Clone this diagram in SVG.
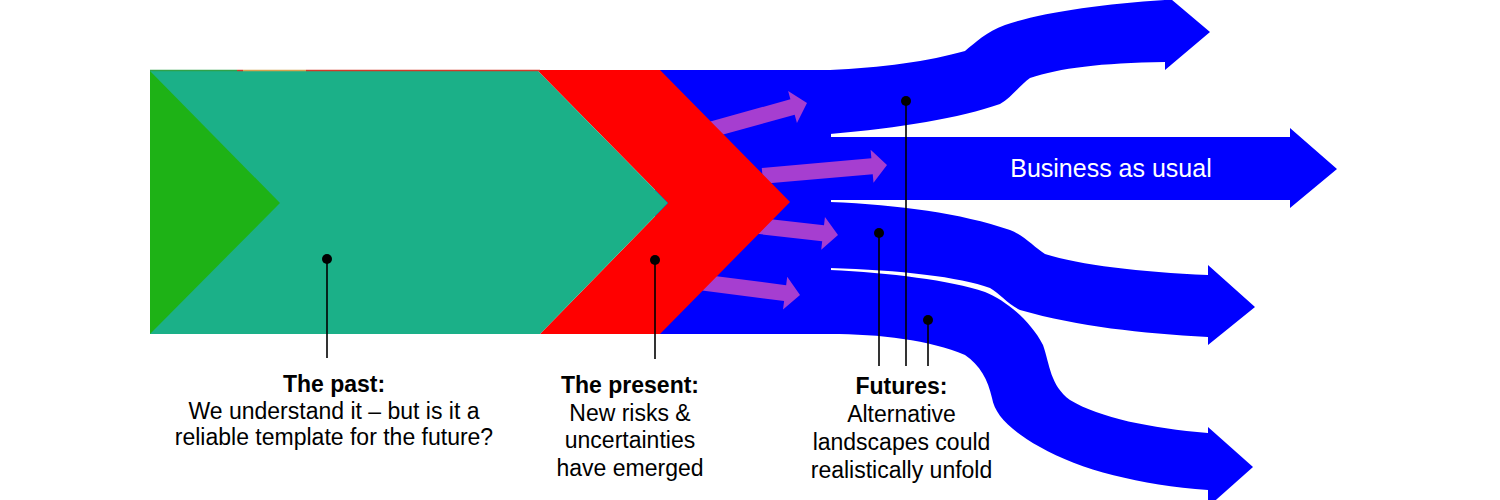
<svg xmlns="http://www.w3.org/2000/svg" xmlns:xlink="http://www.w3.org/1999/xlink" width="1500" height="500" viewBox="0 0 1500 500">
<style>
.blue{fill:#0000FF}
.purple{fill:#A63ED0}
.lbl{font-family:"Liberation Sans",Arial,sans-serif;font-size:23px;fill:#000;text-anchor:middle}
.b{font-weight:bold}
.lead{stroke:#000;stroke-width:1.6;fill:none}
</style>
<defs>
<polygon id="parr" points="-125,-8 -15,-8 -15,-16.5 0,0 -15,16.5 -15,8 -125,8"/>
</defs>
<rect width="1500" height="500" fill="#fff"/>
<g id="futures-arrows">
<rect class="blue" x="655" y="70" width="176" height="264"/>
<path id="future-1" class="blue" d="M830,70 C880,68 930,61 965,51 C976,42 986,32 1005,25 C1040,13 1100,4 1165,0 L1165,-6 L1210,32 L1165,70 L1165,62 C1100,63 1060,68 1030,78 C1020,85 1012,97 1000,104 C960,118 900,128 830,134 Z"/>
<path id="future-bau" class="blue" d="M830,137 L1290,137 L1290,128 L1337,169 L1290,208 L1290,200 L830,200 Z"/>
<path id="future-3" class="blue" d="M830,202 C900,205 960,213 1010,230 C1025,236 1035,248 1045,254 C1080,265 1140,272 1208,275 L1208,265 L1255,307 L1208,345 L1208,337 C1140,333 1080,327 1020,310 C1008,304 1000,294 990,288 C960,277 900,270 830,268 Z"/>
<path id="future-4" class="blue" d="M830,270 C890,273 950,280 985,292 C1005,300 1030,320 1043,345 C1050,365 1050,385 1070,400 C1100,418 1150,428 1208,433 L1208,427 L1253,467 L1208,507 L1208,490 C1140,485 1080,470 1040,447 C1010,430 995,415 992,398 C988,380 980,365 965,355 C930,340 880,334 830,334 Z"/>
<text x="1111" y="177" style="font-family:'Liberation Sans',Arial,sans-serif;font-size:25px;fill:#fff;text-anchor:middle">Business as usual</text>
</g>
<g id="purple-arrows">
<use xlink:href="#parr" href="#parr" class="purple" transform="translate(807,103) rotate(-15.5)"/>
<use xlink:href="#parr" href="#parr" class="purple" transform="translate(887,165) rotate(-5)"/>
<use xlink:href="#parr" href="#parr" class="purple" transform="translate(838,235) rotate(6.5)"/>
<use xlink:href="#parr" href="#parr" class="purple" transform="translate(800,295) rotate(7.3)"/>
</g>
<g id="present">
<polygon fill="#FF0000" points="537,70 660,70 790,202 660,334 540,334 668,203"/>
</g>
<g id="past">
<polygon fill="#1BB088" points="150,70 537,70 668,203 540,334 150,334"/>
<polygon fill="#1EB216" points="150,71 280,203 150,334"/>
<line x1="150" y1="70.5" x2="237" y2="70.5" stroke="#2FA24A" stroke-width="1.5"/>
<line x1="237" y1="70.5" x2="243" y2="70.5" stroke="#D23A2A" stroke-width="1.5"/>
<line x1="243" y1="70.5" x2="306" y2="70.5" stroke="#D4A24E" stroke-width="1.5"/>
<line x1="306" y1="70.5" x2="540" y2="70.5" stroke="#D23A2A" stroke-width="1.5"/>
</g>
<g id="connectors">
<line class="lead" x1="327" y1="259" x2="327" y2="358"/>
<circle cx="327" cy="259" r="5"/>
<line class="lead" x1="655" y1="260" x2="655" y2="359"/>
<circle cx="655" cy="260" r="5"/>
<line class="lead" x1="879" y1="233" x2="879" y2="366"/>
<circle cx="879" cy="233" r="5"/>
<line class="lead" x1="906" y1="101" x2="906" y2="366"/>
<circle cx="906" cy="101" r="5"/>
<line class="lead" x1="928" y1="320" x2="928" y2="366"/>
<circle cx="928" cy="320" r="5"/>
</g>
<g id="label-past">
<text class="lbl b" x="334" y="392">The past:</text>
<text class="lbl" x="334" y="418.5">We understand it – but is it a</text>
<text class="lbl" x="334" y="445">reliable template for the future?</text>
</g>
<g id="label-present">
<text class="lbl b" x="630" y="393">The present:</text>
<text class="lbl" x="630" y="420.5">New risks &amp;</text>
<text class="lbl" x="630" y="448">uncertainties</text>
<text class="lbl" x="630" y="475.5">have emerged</text>
</g>
<g id="label-futures">
<text class="lbl b" x="901.5" y="394">Futures:</text>
<text class="lbl" x="901.5" y="422">Alternative</text>
<text class="lbl" x="901.5" y="450">landscapes could</text>
<text class="lbl" x="901.5" y="477.5">realistically unfold</text>
</g>
</svg>
